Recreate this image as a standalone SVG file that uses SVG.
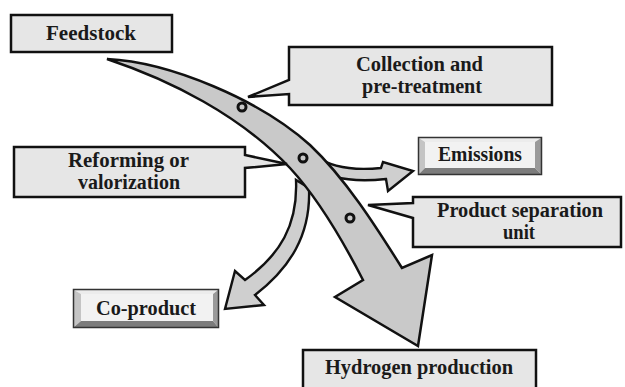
<svg xmlns="http://www.w3.org/2000/svg" width="625" height="387" viewBox="0 0 625 387">
<style>
.box{fill:#e6e6e6;stroke:#111;stroke-width:2.5;stroke-linejoin:miter}
.lbl{font-family:"Liberation Serif","Times New Roman",serif;font-weight:bold;font-size:20px;fill:#1a1a1a;text-anchor:middle}
.arrow{fill:#c9c9c9;stroke:#111;stroke-width:2.5;stroke-linejoin:miter}
.branch{fill:#cfcfcf;stroke:#111;stroke-width:2.4;stroke-linejoin:miter}
.dot{fill:#c9c9c9;stroke:#111;stroke-width:3}
.bt{fill:#ececec}.bl{fill:#c4c4c4}.br{fill:#9a9a9a}.bb{fill:#7c7c7c}
.face{fill:#f2f2f2}
.frame{fill:none;stroke:#333;stroke-width:1.5}
</style>
<rect width="625" height="387" fill="#fff"/>
<g id="connectors">
  <path id="to-emissions" class="branch" d="M316,156 C334,170 360,170 381,168 L383,162 L413,171 L388,191 L386,179 C358,182 330,180 312,166 Z"/>
  <path id="to-coproduct" class="branch" d="M296,180 C298,225 280,255 245,280 L235,271 L225,309 L264,305 L255,295 C290,268 311,235 309,188 Z"/>
  <path id="main-flow" class="arrow" d="M107,59 C170,62 260,100 310,145 C345,178 375,225 402,268 L432,255 L418,346 L335,297 L363,280 C340,235 315,195 290,168 C240,115 170,80 107,59 Z"/>
  <circle class="dot" cx="242" cy="107" r="4"/>
  <circle class="dot" cx="303" cy="158" r="4"/>
  <circle class="dot" cx="350" cy="218" r="4"/>
</g>
<g id="feedstock">
  <rect class="box" x="11" y="15" width="161" height="37"/>
  <text class="lbl" x="91" y="40" textLength="90" lengthAdjust="spacingAndGlyphs">Feedstock</text>
</g>
<g id="collection">
  <path class="box" d="M289,47 H552 V105 H289 V94 L248,97 L289,80 Z"/>
  <text class="lbl" x="419.5" y="71" textLength="127" lengthAdjust="spacingAndGlyphs">Collection and</text>
  <text class="lbl" x="422" y="93" textLength="120" lengthAdjust="spacingAndGlyphs">pre-treatment</text>
</g>
<g id="reforming">
  <path class="box" d="M14,147 H245 V155 L287,164 L245,168 V197 H14 Z"/>
  <text class="lbl" x="128.5" y="167" textLength="121" lengthAdjust="spacingAndGlyphs">Reforming  or</text>
  <text class="lbl" x="129" y="189" textLength="102" lengthAdjust="spacingAndGlyphs">valorization</text>
</g>
<g id="separation">
  <path class="box" d="M413,197 H621 V247 H413 V218 L368,205 L413,203 Z"/>
  <text class="lbl" x="520" y="217" textLength="166" lengthAdjust="spacingAndGlyphs">Product separation</text>
  <text class="lbl" x="519" y="239" textLength="32" lengthAdjust="spacingAndGlyphs">unit</text>
</g>
<g id="emissions">
  <polygon class="bt" points="419,138 541,138 535,142 425,142"/>
  <polygon class="bl" points="419,138 425,142 425,168 419,174"/>
  <polygon class="br" points="541,138 541,174 535,168 535,142"/>
  <polygon class="bb" points="419,174 425,168 535,168 541,174"/>
  <rect class="face" x="425" y="142" width="110" height="26"/>
  <rect class="frame" x="418.5" y="137.5" width="123" height="37"/>
  <text class="lbl" x="480" y="161" textLength="84" lengthAdjust="spacingAndGlyphs">Emissions</text>
</g>
<g id="coproduct">
  <polygon class="bt" points="74,290 218,290 213,294 81,294"/>
  <polygon class="bl" points="74,290 81,294 81,321 74,327"/>
  <polygon class="br" points="218,290 218,327 213,321 213,294"/>
  <polygon class="bb" points="74,327 81,321 213,321 218,327"/>
  <rect class="face" x="81" y="294" width="132" height="27"/>
  <rect class="frame" x="73.5" y="289.5" width="145" height="38"/>
  <text class="lbl" x="146" y="315" textLength="100" lengthAdjust="spacingAndGlyphs">Co-product</text>
</g>
<g id="hydrogen">
  <rect class="box" x="303" y="350" width="233" height="42"/>
  <text class="lbl" x="419" y="374" textLength="188" lengthAdjust="spacingAndGlyphs">Hydrogen production</text>
</g>
</svg>
